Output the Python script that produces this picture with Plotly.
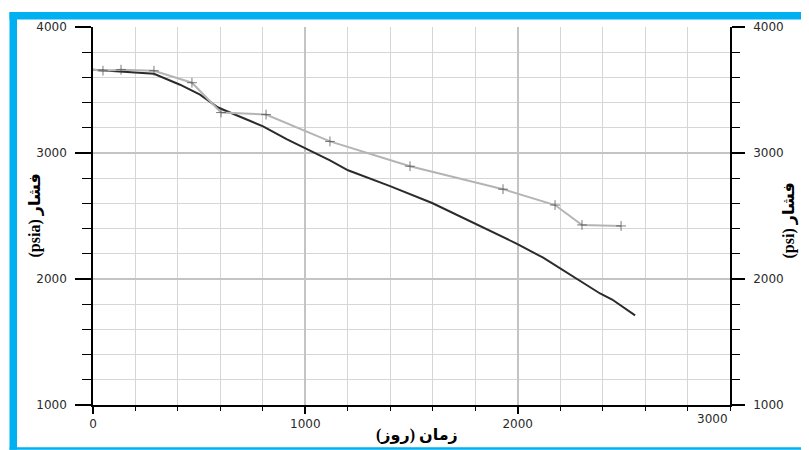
import plotly.graph_objects as go

# ---- data ----
sim_days = [0, 287, 410, 504, 589, 693, 801, 914, 999, 1116, 1201, 1291, 1399,
            1597, 1823, 1997, 2120, 2285, 2388, 2445, 2553]
sim_psia = [3661, 3629, 3542, 3463, 3361, 3290, 3211, 3108, 3037, 2942, 2863, 2808, 2737,
            2603, 2421, 2279, 2169, 1995, 1885, 1837, 1711]

obs_days = [0, 47, 132, 287, 466, 603, 815, 1116, 1493, 1931, 2176, 2303, 2487]
obs_psi = [3661, 3653, 3661, 3653, 3558, 3321, 3305, 3092, 2895, 2713, 2587, 2429, 2421]

x_tick_vals = [0, 1000, 2000]
x_tick_text = ["0", "1000", "2000"]
x_last_tick = "3000"
y_tick_vals = [1000, 2000, 3000, 4000]
y_tick_text = ["1000", "2000", "3000", "4000"]

x_title = "(روز) زمان"
y_left_title = "(psia) فشار"
y_right_title = "(psi) فشار"

# page body has an 8px margin: lay out in page pixels, then offset
OFF = 8
W, H = 809 - OFF, 450 - OFF
PL, PR, PT, PB = 93, 730, 24, 405          # plot area in page pixels
L, T = PL - OFF, PT - OFF
R, B = W - (PR - OFF), H - (PB - OFF)
PW, PH = PR - PL, PB - PT


def px_x(px):
    return (px - PL) / PW


def px_y(py):
    return (PB - py) / PH


tick_font = dict(family="DejaVu Sans", size=12, color="#2a2a2a")
title_font = dict(family="Liberation Serif, DejaVu Sans", size=16, color="#000000")

fig = go.Figure()
fig.add_trace(go.Scatter(
    x=obs_days, y=obs_psi, mode="lines+markers", yaxis="y2",
    line=dict(color="#b4b4b4", width=2),
    marker=dict(symbol="cross-thin", size=[0] + [7] * (len(obs_days) - 1),
                line=dict(color="#444444", width=1), color="#444444"),
    showlegend=False, hoverinfo="skip",
))
fig.add_trace(go.Scatter(
    x=sim_days, y=sim_psia, mode="lines",
    line=dict(color="#2b2b2b", width=2),
    showlegend=False, hoverinfo="skip",
))

grid_minor = "#d6d6d6"
grid_major = "#c4c4c4"

fig.update_layout(
    width=W, height=H,
    margin=dict(l=L, r=R, t=T, b=B, pad=0),
    paper_bgcolor="white", plot_bgcolor="white",
    xaxis=dict(
        range=[0, 3000], tickvals=x_tick_vals, ticktext=x_tick_text,
        showgrid=True, gridcolor=grid_major, gridwidth=2,
        showline=True, linecolor="#000000", linewidth=1.5,
        ticks="outside", ticklen=7, tickwidth=2, tickcolor="#000000",
        tickfont=tick_font, zeroline=False,
        minor=dict(dtick=200, showgrid=True, gridcolor=grid_minor, gridwidth=1,
                   ticks="outside", ticklen=4, tickwidth=1, tickcolor="#000000"),
    ),
    yaxis=dict(
        range=[1000, 4000], tickvals=y_tick_vals, ticktext=y_tick_text,
        showgrid=True, gridcolor=grid_major, gridwidth=2,
        showline=True, linecolor="#000000", linewidth=1.5,
        ticks="outside", ticklen=16, tickwidth=2, tickcolor="#000000",
        ticklabelstandoff=6,
        tickfont=tick_font, zeroline=False,
        minor=dict(dtick=200, showgrid=True, gridcolor=grid_minor, gridwidth=1,
                   ticks="outside", ticklen=9, tickwidth=1, tickcolor="#000000"),
    ),
    yaxis2=dict(
        range=[1000, 4000], tickvals=y_tick_vals, ticktext=y_tick_text,
        overlaying="y", side="right", anchor="x",
        showgrid=False, showline=True, linecolor="#000000", linewidth=1.5,
        ticks="outside", ticklen=13, tickwidth=2, tickcolor="#000000",
        ticklabelstandoff=6,
        tickfont=tick_font, zeroline=False,
        minor=dict(dtick=200, showgrid=False,
                   ticks="outside", ticklen=8, tickwidth=1, tickcolor="#000000"),
    ),
)

# last x tick label kept inside the frame (as in the reference)
fig.add_annotation(x=3000, y=px_y(419), xref="x", yref="paper", text=x_last_tick,
                   showarrow=False, xanchor="right", yanchor="middle", font=tick_font)

# axis titles
fig.add_annotation(x=px_x(417), y=px_y(435), xref="paper", yref="paper",
                   text="<b>" + x_title + "</b>", showarrow=False,
                   xanchor="center", yanchor="middle", font=title_font)
fig.add_annotation(x=px_x(35), y=px_y(214), xref="paper", yref="paper",
                   text="<b>" + y_left_title + "</b>", showarrow=False, textangle=-90,
                   xanchor="center", yanchor="middle", font=title_font)
fig.add_annotation(x=px_x(789), y=px_y(219), xref="paper", yref="paper",
                   text="<b>" + y_right_title + "</b>", showarrow=False, textangle=-90,
                   xanchor="center", yanchor="middle", font=title_font)

# blue frame
blue = "#00b0f0"
fig.add_shape(type="rect", xref="paper", yref="paper", x0=px_x(9.5), x1=px_x(17),
              y0=px_y(450), y1=px_y(9), fillcolor=blue, line=dict(width=0))
fig.add_shape(type="rect", xref="paper", yref="paper", x0=px_x(9.5), x1=px_x(809),
              y0=px_y(16.5), y1=px_y(9), fillcolor=blue, line=dict(width=0))
fig.add_shape(type="rect", xref="paper", yref="paper", x0=px_x(9.5), x1=px_x(809),
              y0=px_y(450), y1=px_y(447.5), fillcolor=blue, line=dict(width=0))

fig.write_html("out.html")
